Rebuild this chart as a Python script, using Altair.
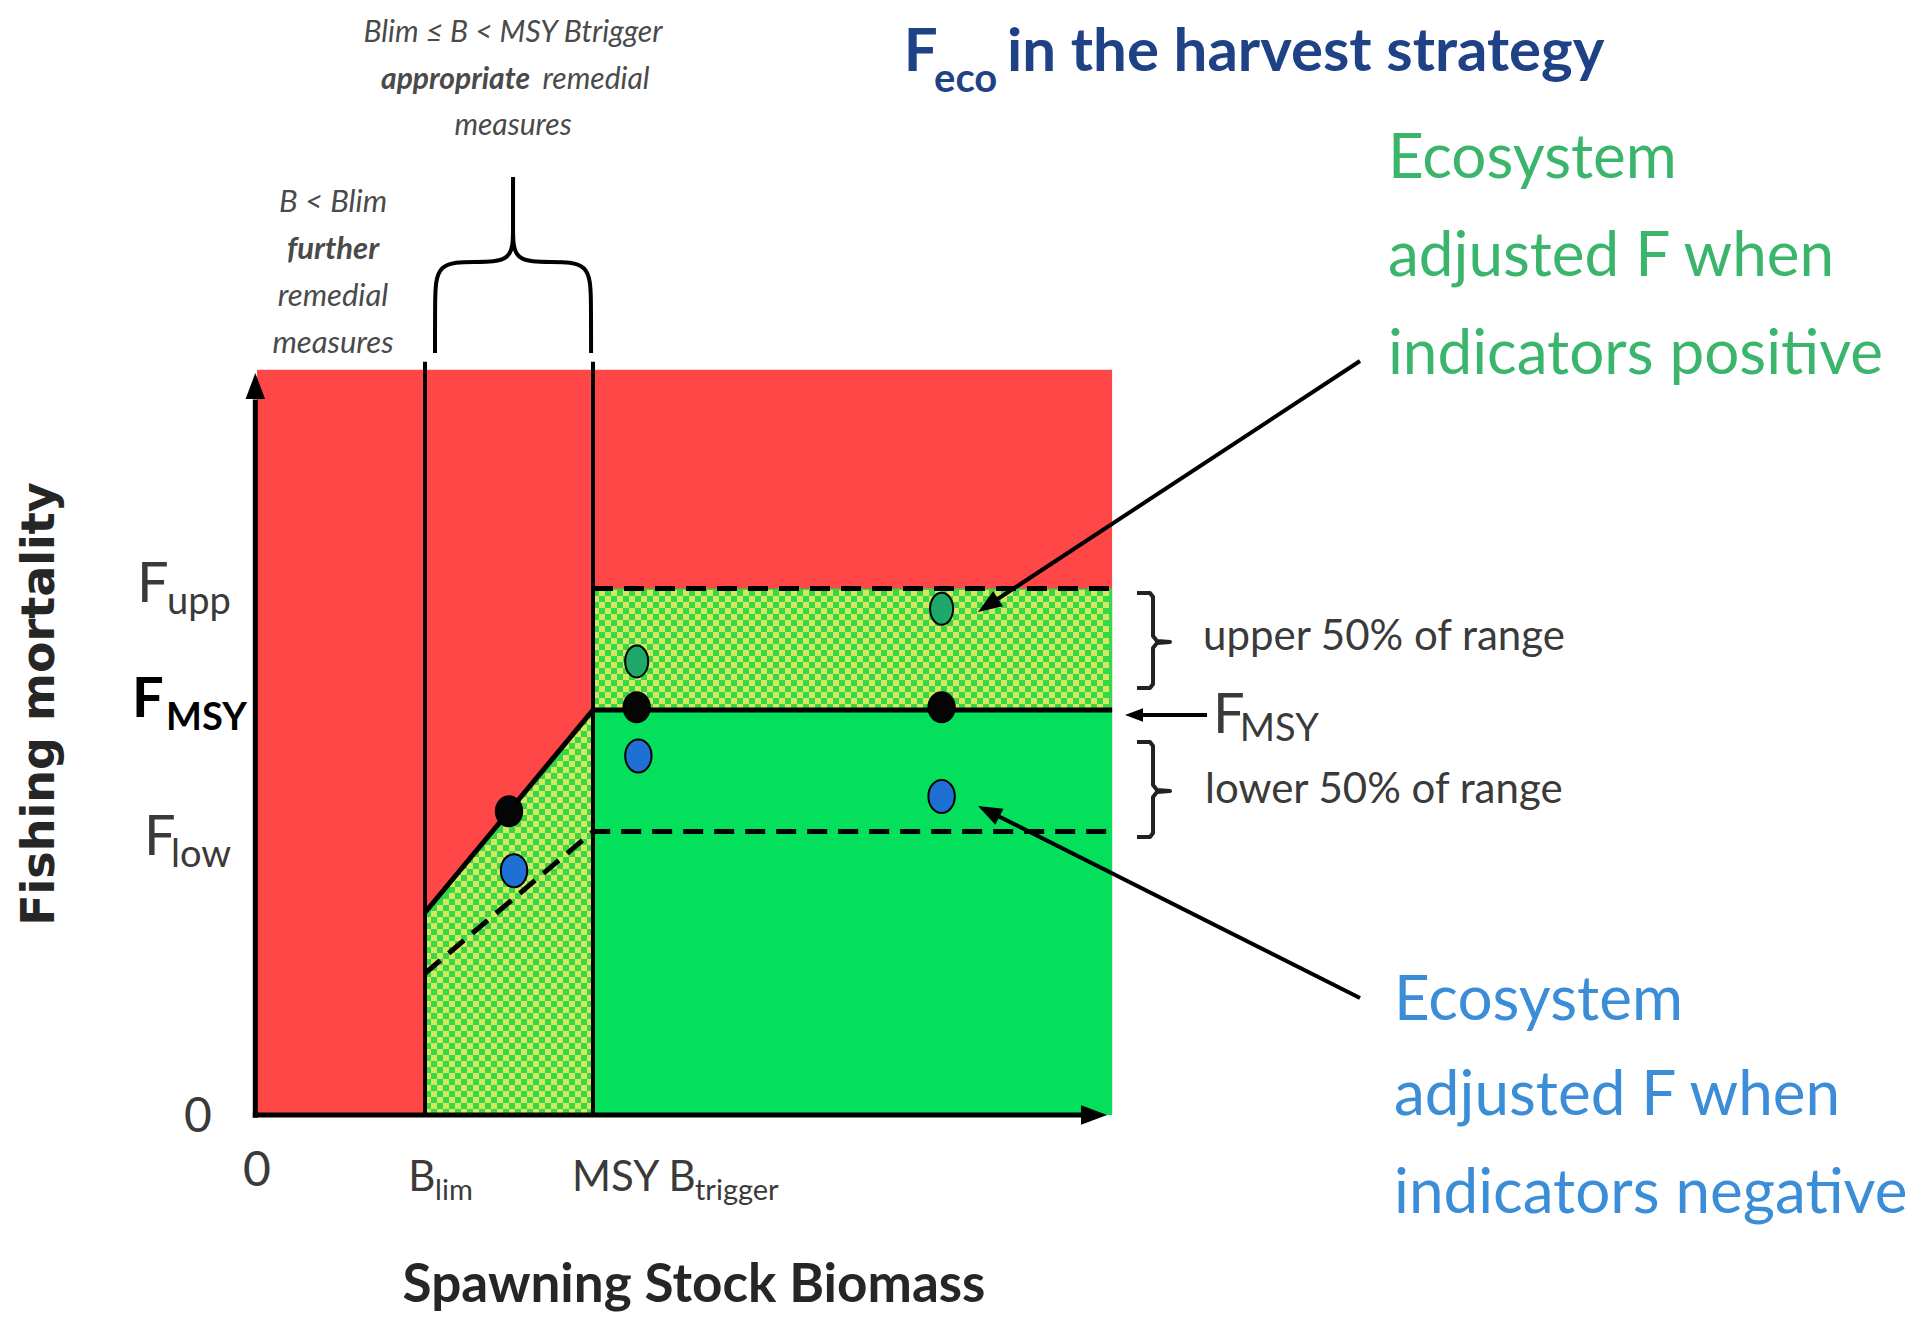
import math
import altair as alt
import numpy as np
import pandas as pd

# ---------------- values (diagram units) ----------------
B_LIM, B_TRIGGER, B_MAX = 2.0, 4.0, 10.18
F_LOW, F_MSY, F_UPP, F_TOP = 0.21, 0.30, 0.39, 0.552

hcr_B = [B_LIM, B_TRIGGER, B_MAX]
hcr_F = [0.15, 0.30, 0.30]
low_B = [B_LIM, B_TRIGGER, B_MAX]
low_F = [0.105, 0.21, 0.21]
upp_B = [B_TRIGGER, B_MAX]
upp_F = [F_UPP, F_UPP]

black_B = [3.0, 4.52, 8.15]
black_F = [0.225, 0.302, 0.302]
blue_B = [3.06, 4.54, 8.15]
blue_F = [0.181, 0.266, 0.236]
green_B = [4.52, 8.15]
green_F = [0.336, 0.375]

title_parts = ["F", "eco", "in the harvest strategy"]
ytick_main = ["F", "F", "F"]
ytick_sub = ["upp", "MSY", "low"]
xtick_main = ["0", "B", "MSY B"]
xtick_sub = ["lim", "trigger"]
green_lines = ["Ecosystem", "adjusted F when", "indicators positive"]
blue_lines = ["Ecosystem", "adjusted F when", "indicators negative"]
range_labels = ["upper 50% of range", "lower 50% of range"]

# ---------------- layout ----------------
W, H = 1900, 1310
PXB, PXF = 84.0, 1350.0      # pixels per unit
OX, OY = 249.0, 1107.0       # plot pixel of the origin
x_dom = [-OX / PXB, (W - OX) / PXB]
y_dom = [(OY - H) / PXF, OY / PXF]
XS = alt.Scale(domain=x_dom, nice=False, zero=False)
YS = alt.Scale(domain=y_dom, nice=False, zero=False)


def ex(f="x"):
    return alt.X(f"{f}:Q", scale=XS, axis=None)


def ey(f="y"):
    return alt.Y(f"{f}:Q", scale=YS, axis=None)


def to_px(x, y):
    return ((x - x_dom[0]) * PXB, (y_dom[1] - y) * PXF)


def to_data(px, py):
    return (px / PXB + x_dom[0], y_dom[1] - py / PXF)


RED = "#FF4747"
GREEN = "#04DF5C"
CHK_G = "#36D84A"
CHK_Y = "#D3E85C"
FONT = "Lato"
GRAY = "#3a3a3a"

layers = []

# background zones
zones = pd.DataFrame({
    "x": [0, B_TRIGGER, B_TRIGGER],
    "x2": [B_MAX, B_MAX, B_MAX],
    "y": [0, 0, F_MSY],
    "y2": [F_TOP, F_MSY, F_UPP],
    "c": [RED, GREEN, CHK_G],
})
layers.append(alt.Chart(zones).mark_rect().encode(
    x=ex(), x2="x2:Q", y=ey(), y2="y2:Q", color=alt.Color("c:N", scale=None)))

trap = pd.DataFrame({"x": hcr_B[:2], "y": hcr_F[:2], "y0": [0, 0]})
layers.append(alt.Chart(trap).mark_area(color=CHK_G).encode(x=ex(), y=ey(), y2="y0:Q"))

# checkered texture (decorative)
cell = 6.0
dxc, dyc = cell / PXB, cell / PXF
tex = []
nx = int((B_MAX - B_TRIGGER) / dxc)
ny = int(round((F_UPP - F_MSY) / dyc))
for i in range(nx):
    for j in range(ny):
        if (i + j) % 2 == 0:
            tex.append((B_TRIGGER + (i + 0.5) * dxc, F_MSY + (j + 0.5) * dyc))
nx2 = int((B_TRIGGER - B_LIM) / dxc)
for i in range(nx2):
    xc = B_LIM + (i + 0.5) * dxc
    ytop = float(np.interp(xc, hcr_B, hcr_F))
    j = 0
    while (j + 1) * dyc <= ytop:
        if (i + j) % 2 == 0:
            tex.append((xc, (j + 0.5) * dyc))
        j += 1
tex_df = pd.DataFrame(tex, columns=["x", "y"])
layers.append(alt.Chart(tex_df).mark_square(size=cell * cell, color=CHK_Y, opacity=1).encode(x=ex(), y=ey()))

# dashed lines
dash_rows = [(b, f, "low", i) for i, (b, f) in enumerate(zip(low_B, low_F))] + \
            [(b, f, "upp", i) for i, (b, f) in enumerate(zip(upp_B, upp_F))]
dash_df = pd.DataFrame(dash_rows, columns=["x", "y", "s", "i"])
layers.append(alt.Chart(dash_df).mark_line(color="black", strokeWidth=5, strokeDash=[20, 11]).encode(
    x=ex(), y=ey(), detail="s:N", order="i:Q"))

# solid harvest control rule
hcr_df = pd.DataFrame({"x": hcr_B, "y": hcr_F, "i": [0, 1, 2]})
layers.append(alt.Chart(hcr_df).mark_line(color="black", strokeWidth=5).encode(x=ex(), y=ey(), order="i:Q"))

# vertical reference lines
vl = pd.DataFrame({"x": [B_LIM, B_TRIGGER], "y": [0, 0], "y2": [0.558, 0.558]})
layers.append(alt.Chart(vl).mark_rule(color="black", strokeWidth=4).encode(x=ex(), y=ey(), y2="y2:Q"))

# arrows: (x0, y0, x1, y1, half-length of head, draw shaft)
arrow_specs = [
    (-0.02, 0.0, -0.02, 0.5496, 13, False),
    (0.0, 0.0, 10.12, 0.0, 13, False),
    (13.131, 0.5585, 8.583, 0.3726, 12, True),
    (13.131, 0.0867, 8.583, 0.2289, 12, True),
    (11.31, 0.2963, 10.333, 0.2963, 9, True),
]
heads, shafts = [], []
for (x0, y0, x1, y1, h, shaft) in arrow_specs:
    p0, p1 = to_px(x0, y0), to_px(x1, y1)
    ddx, ddy = p1[0] - p0[0], p1[1] - p0[1]
    L = math.hypot(ddx, ddy)
    ux, uy = ddx / L, ddy / L
    cx, cy = to_data(p1[0] - ux * h, p1[1] - uy * h)
    ang = math.degrees(math.atan2(ux, -uy)) % 360
    heads.append((cx, cy, ang, (2 * h) ** 2))
    if shaft:
        exx, eyy = to_data(p1[0] - ux * h * 1.3, p1[1] - uy * h * 1.3)
        shafts.append((x0, y0, exx, eyy))

axes_df = pd.DataFrame({"x": [-0.02, -0.05], "x2": [-0.02, 10.0], "y": [-0.002, 0.0], "y2": [0.53, 0.0]})
layers.append(alt.Chart(axes_df).mark_rule(color="black", strokeWidth=5).encode(
    x=ex(), x2="x2:Q", y=ey(), y2="y2:Q"))

shaft_df = pd.DataFrame(shafts, columns=["x", "y", "x2", "y2"])
layers.append(alt.Chart(shaft_df).mark_rule(color="black", strokeWidth=4).encode(
    x=ex(), x2="x2:Q", y=ey(), y2="y2:Q"))

head_df = pd.DataFrame(heads, columns=["x", "y", "a", "s"])
layers.append(alt.Chart(head_df).mark_point(
    shape="M0,-1L0.75,1L-0.75,1Z", filled=True, color="black", opacity=1).encode(
    x=ex(), y=ey(), angle=alt.Angle("a:Q", scale=None), size=alt.Size("s:Q", scale=None)))


# points
def ellipse(rx):
    return f"M{-rx},0A{rx},1,0,1,1,{rx},0A{rx},1,0,1,1,{-rx},0Z"


for bs, fs, col, rx, sz in [(black_B, black_F, "#050505", 0.88, 900),
                            (blue_B, blue_F, "#1F70D4", 0.8, 1089),
                            (green_B, green_F, "#1EA86A", 0.72, 1024)]:
    df = pd.DataFrame({"x": bs, "y": fs})
    layers.append(alt.Chart(df).mark_point(
        shape=ellipse(rx), filled=True, fill=col, stroke="black", strokeWidth=2,
        size=sz, opacity=1).encode(x=ex(), y=ey()))

# braces
top_left_B = [2.119, 2.119, 2.131, 2.595, 3.048, 3.048, 3.048]
top_left_F = [0.5644, 0.6037, 0.6319, 0.6319, 0.6319, 0.6556, 0.6948]
mid = 3.048
brace_rows = [(b, f, "L", i) for i, (b, f) in enumerate(zip(top_left_B, top_left_F))] + \
             [(2 * mid - b, f, "R", i) for i, (b, f) in enumerate(zip(top_left_B, top_left_F))]
brace_df = pd.DataFrame(brace_rows, columns=["x", "y", "s", "i"])
layers.append(alt.Chart(brace_df).mark_line(color="black", strokeWidth=4, interpolate="basis").encode(
    x=ex(), y=ey(), detail="s:N", order="i:Q"))

v_dx = [0, 0.155, 0.191, 0.191, 0.238, 0.393, 0.238, 0.191, 0.191, 0.155, 0]
v_dy = [0.0363, 0.0363, 0.0333, 0.0044, 0.0007, 0, -0.0007, -0.0044, -0.0311, -0.0341, -0.0341]
vb_rows = []
for name, tip in [("u", 0.3504), ("l", 0.2400)]:
    for i, (a, b) in enumerate(zip(v_dx, v_dy)):
        vb_rows.append((10.476 + a, tip + b, name, i))
vb_df = pd.DataFrame(vb_rows, columns=["x", "y", "s", "i"])
layers.append(alt.Chart(vb_df).mark_line(color="#222222", strokeWidth=4, strokeJoin="round").encode(
    x=ex(), y=ey(), detail="s:N", order="i:Q"))


# texts
def text_layer(rows, size, color, weight="normal", style="normal", align="left",
               baseline="alphabetic", angle=0, font=FONT):
    df = pd.DataFrame(rows, columns=["x", "y", "t"])
    return alt.Chart(df).mark_text(
        font=font, fontSize=size, color=color, fontWeight=weight, fontStyle=style,
        align=align, baseline=baseline, angle=angle).encode(x=ex(), y=ey(), text="t:N")


TITLE = "#1F4287"
layers.append(text_layer([(7.70, 0.7733, title_parts[0]), (8.93, 0.7733, title_parts[2])], 60, TITLE, "bold"))
layers.append(text_layer([(8.06, 0.758, title_parts[1])], 40, TITLE, "bold"))

layers.append(text_layer([(-2.583, 0.3044, "Fishing mortality")], 46, "#262626", "bold",
                         align="center", baseline="middle", angle=270, font="DejaVu Sans"))
layers.append(text_layer([(5.202, -0.1385, "Spawning Stock Biomass")], 53, "#262626", "bold",
                         align="center"))

# y tick labels
layers.append(text_layer([(-1.429, 0.380, ytick_main[0]), (-1.345, 0.1926, ytick_main[2])], 56, GRAY))
layers.append(text_layer([(-1.071, 0.371, ytick_sub[0]), (-1.024, 0.1837, ytick_sub[2])], 38, GRAY))
layers.append(text_layer([(-1.488, 0.2948, ytick_main[1])], 56, "black", "bold"))
layers.append(text_layer([(-1.083, 0.2852, ytick_sub[1])], 38, "black", "bold"))
layers.append(text_layer([(-0.702, -0.002, "0"), (0.0, -0.0422, xtick_main[0])], 48, GRAY,
                         align="center", baseline="middle"))
# x tick labels
layers.append(text_layer([(1.80, -0.0563, xtick_main[1]), (3.75, -0.0563, xtick_main[2])], 42, GRAY))
layers.append(text_layer([(2.12, -0.063, xtick_sub[0]), (5.214, -0.063, xtick_sub[1])], 29, GRAY))

# right-hand labels
layers.append(text_layer([(11.262, 0.354, range_labels[0]), (11.286, 0.2407, range_labels[1])], 42, GRAY,
                         baseline="middle"))
layers.append(text_layer([(11.381, 0.283, "F")], 56, GRAY))
layers.append(text_layer([(11.70, 0.277, "MSY")], 38, GRAY))

# ecosystem annotations
layers.append(text_layer([(13.464, y, t) for y, t in zip([0.7081, 0.6356, 0.5630], green_lines)], 62,
                         "#3BB56C", baseline="middle"))
layers.append(text_layer([(13.536, y, t) for y, t in zip([0.0844, 0.0141, -0.0585], blue_lines)], 62,
                         "#3A8DD6", baseline="middle"))

# top annotations
IT = "#4a4a4a"
layers.append(text_layer([(3.048, 0.8015, "Blim ≤ B < MSY Btrigger"), (3.048, 0.7326, "measures")], 30, IT,
                         style="italic", align="center", baseline="middle"))
layers.append(text_layer([(3.25, 0.7667, "appropriate")], 30, IT, "bold", "italic", align="right",
                         baseline="middle"))
layers.append(text_layer([(3.40, 0.7667, "remedial")], 30, IT, style="italic", baseline="middle"))
layers.append(text_layer([(0.905, 0.6756, "B < Blim"), (0.905, 0.6059, "remedial"), (0.905, 0.5711, "measures")],
                         31, IT, style="italic", align="center", baseline="middle"))
layers.append(text_layer([(0.905, 0.6407, "further")], 31, IT, "bold", "italic", align="center",
                         baseline="middle"))

chart = alt.layer(*layers).properties(
    width=W, height=H, padding=0, autosize=alt.AutoSizeParams(type="none")
).configure_view(stroke=None)

chart.save("out.html", embed_options={"renderer": "svg", "actions": False})
